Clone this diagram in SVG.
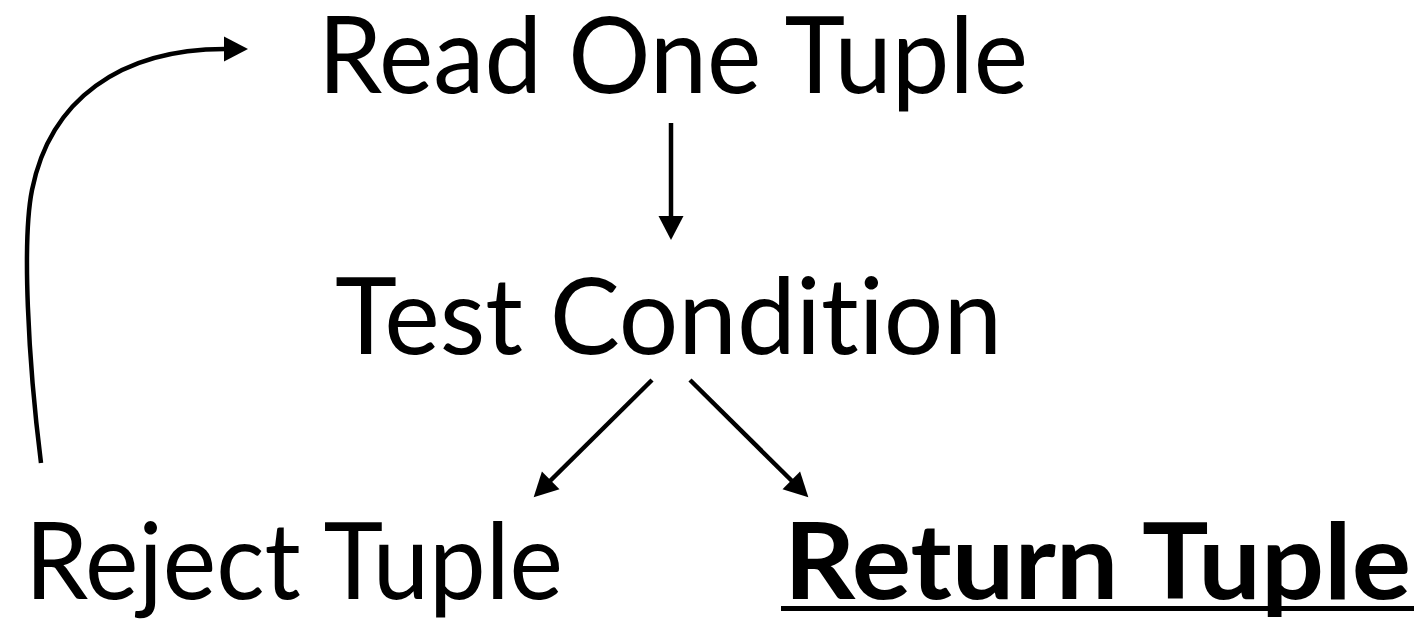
<svg xmlns="http://www.w3.org/2000/svg" width="1425" height="622" viewBox="0 0 1425 622">
  <style>
    .label { font-family: "Lato", "Open Sans", "Liberation Sans", sans-serif; font-size: 106px; fill: #000; font-variant-ligatures: none; font-feature-settings: "liga" 0; }
    .bold { font-weight: 700; }
    .edge { fill: none; stroke: #000; stroke-width: 4.5; }
  </style>
  <defs>
    <marker id="head" markerUnits="userSpaceOnUse" markerWidth="26" markerHeight="26" refX="1" refY="12.5" orient="auto" overflow="visible">
      <path d="M0,0 L24,12.5 L0,25 Z" fill="#000"/>
    </marker>
  </defs>
  <rect width="1425" height="622" fill="#fff"/>

  <g id="read-one-tuple">
    <text class="label" x="318" y="93" textLength="710" lengthAdjust="spacingAndGlyphs">Read One Tuple</text>
  </g>
  <g id="test-condition">
    <text class="label" x="335" y="354" textLength="667" lengthAdjust="spacingAndGlyphs">Test Condition</text>
  </g>
  <g id="reject-tuple">
    <text class="label" x="25" y="599" textLength="538" lengthAdjust="spacingAndGlyphs">Reject Tuple</text>
  </g>
  <g id="return-tuple">
    <text class="label bold" x="784" y="599" textLength="627" lengthAdjust="spacingAndGlyphs">Return Tuple</text>
    <rect x="781" y="606" width="633" height="5" fill="#000"/>
  </g>

  <g id="connectors">
    <path class="edge" d="M671,123 L671,217" marker-end="url(#head)"/>
    <path class="edge" d="M652,380 L550,481" marker-end="url(#head)"/>
    <path class="edge" d="M690,380 L792,481" marker-end="url(#head)"/>
    <path class="edge" d="M41,463 C28,360 22,240 32,190 C50,100 120,49 225,49" marker-end="url(#head)"/>
  </g>
</svg>
